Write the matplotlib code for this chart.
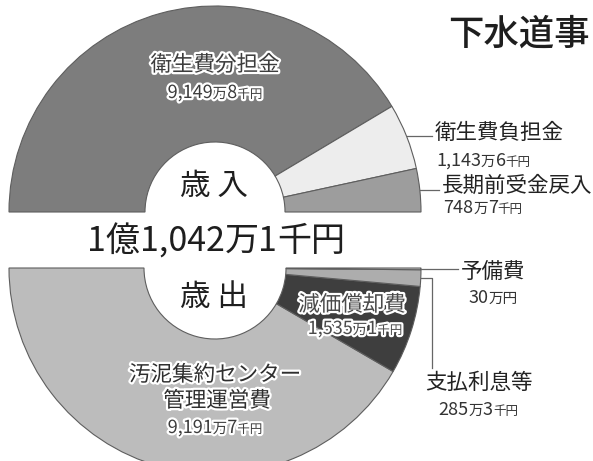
import matplotlib
matplotlib.use('Agg')
import matplotlib.pyplot as plt
import matplotlib.patheffects as pe
import numpy as np

plt.rcParams['font.family'] = ['Noto Sans CJK JP', 'DejaVu Sans']

# 単位: 万円
rev_labels = ['衛生費分担金', '衛生費負担金', '長期前受金戻入']
rev_values = [9149.8, 1143.6, 748.7]
rev_colors = ['#7d7d7d', '#ededed', '#9d9d9d']

exp_labels = ['汚泥集約センター\n管理運営費', '減価償却費', '支払利息等', '予備費']
exp_values = [9191.7, 1535.1, 285.3, 30.0]
exp_colors = ['#bcbcbc', '#3e3e3e', '#adadad', '#c6c6c6']

total = sum(rev_values)

W, H = 593, 461
fig = plt.figure(figsize=(W / 100, H / 100), dpi=100)
ax = fig.add_axes([0, 0, 1, 1])

R = 206
edge = dict(edgecolor='#5e5e5e', linewidth=0.8)

top, _ = ax.pie(np.array(rev_values) / total / 2, normalize=False,
                colors=rev_colors, startangle=180, counterclock=False,
                center=(215, H - 212), radius=R,
                wedgeprops=dict(width=R - 70, **edge))
bot, _ = ax.pie(np.array(exp_values) / total / 2, normalize=False,
                colors=exp_colors, startangle=180, counterclock=True,
                center=(215, H - 268), radius=R,
                wedgeprops=dict(width=R - 71, **edge))

ax.set_xlim(0, W)
ax.set_ylim(0, H)
ax.set_aspect('equal')
ax.axis('off')

renderer = fig.canvas.get_renderer()
halo = [pe.withStroke(linewidth=3.2, foreground='white')]


def yen_parts(v, big, mid, small):
    n = int(round(v * 10))
    man, sen = divmod(n, 10)
    oku, man = divmod(man, 10000)
    parts = []
    if oku:
        parts += [(str(oku), big), ('億', big)]
    parts.append(('{:,}'.format(man), big))
    if sen:
        parts += [('万', mid), (str(sen), big), ('千円', small)]
    else:
        parts += [('万円', mid)]
    return parts


def mixed(x, y, parts, ha='center', color='#222222', effects=None):
    ts = []
    for s, fs in parts:
        t = ax.text(0, 0, s, fontsize=fs, va='baseline', ha='left',
                    color=color, path_effects=effects)
        ts.append(t)
    ws = [t.get_window_extent(renderer).width for t in ts]
    x0 = x - sum(ws) / 2 if ha == 'center' else x
    for t, w in zip(ts, ws):
        t.set_position((x0, H - y))
        x0 += w


def edge_point(w, frac=0.5):
    a = np.deg2rad(w.theta1 + (w.theta2 - w.theta1) * frac)
    cx, cy = w.center
    return cx + w.r * np.cos(a), cy + w.r * np.sin(a)


# タイトル
ax.text(448, H - 35, '下水道事', fontsize=25.5, va='center', ha='left',
        color='#1e1e1e', fontweight='medium')

# 中央
ax.text(214, H - 186, '歳 入', fontsize=22, ha='center', va='center',
        color='#1e1e1e')
ax.text(214, H - 297, '歳 出', fontsize=22, ha='center', va='center',
        color='#1e1e1e')
mixed(216, 251, [(s, 24.5) for s, _ in yen_parts(total, 1, 1, 1)],
      color='#1e1e1e')

# 歳入 内側ラベル
ax.text(215, H - 65, rev_labels[0], fontsize=15.5, ha='center', va='center',
        color='#3c3c3c', path_effects=halo)
mixed(215, 98, yen_parts(rev_values[0], 13, 10.5, 9), color='#3c3c3c',
      effects=halo)

# 歳入 外側ラベル
for i, (lx, ly, vy) in zip([1, 2], [(435, 133, 166), (442, 186, 213)]):
    px, py = edge_point(top[i])
    ax.plot([px, lx - 3], [py, py], color='#666666', lw=0.9)
    ax.text(lx, H - ly, rev_labels[i], fontsize=15.5, ha='left', va='center',
            color='#222222')
    mixed(lx + 1, vy, yen_parts(rev_values[i], 13, 10.5, 9), ha='left',
          color='#333333')

# 歳出 内側ラベル
l1, l2 = exp_labels[0].split('\n')
ax.text(215, H - 375, l1, fontsize=15.5, ha='center', va='center',
        color='#2e2e2e', path_effects=halo)
ax.text(217, H - 401, l2, fontsize=15.5, ha='center', va='center',
        color='#2e2e2e', path_effects=halo)
mixed(215, 433, yen_parts(exp_values[0], 13, 10.5, 9), color='#3c3c3c',
      effects=halo)

ax.text(352, H - 305, exp_labels[1], fontsize=15.5, ha='center', va='center',
        color='#4a4a4a', path_effects=halo)
mixed(355, 334, yen_parts(exp_values[1], 13, 10.5, 9), color='#4a4a4a',
      effects=halo)

# 歳出 外側ラベル
px, py = edge_point(bot[3])
ax.plot([px, 458], [py, py], color='#666666', lw=0.9)
ax.text(493, H - 272, exp_labels[3], fontsize=15.5, ha='center', va='center',
        color='#222222')
mixed(493, 303, yen_parts(exp_values[3], 13, 10.5, 9), color='#333333')

px, py = edge_point(bot[2])
ax.plot([px, 432, 432], [py, py, H - 368], color='#666666', lw=0.9)
ax.text(479, H - 383, exp_labels[2], fontsize=15.5, ha='center', va='center',
        color='#222222')
mixed(478, 415, yen_parts(exp_values[2], 13, 10.5, 9), color='#333333')

fig.savefig('out.png', dpi=100)
